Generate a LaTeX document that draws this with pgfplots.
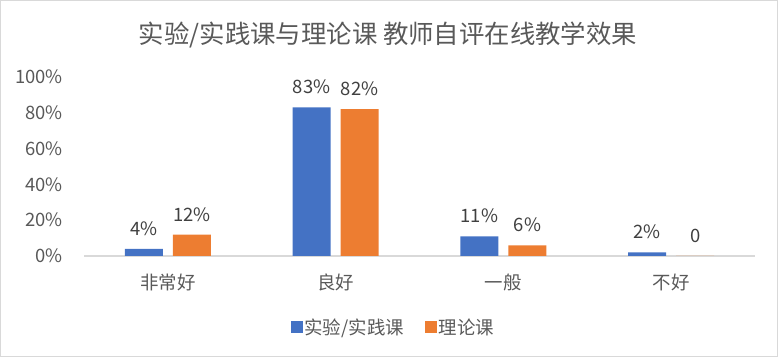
\documentclass[border=0pt]{standalone}
\usepackage{fontspec}
\setmainfont{Noto Sans CJK SC}
\usepackage{pgfplots}
\pgfplotsset{compat=1.18}
\definecolor{cblue}{HTML}{4472C4}
\definecolor{corange}{HTML}{ED7D31}
\definecolor{ctext}{HTML}{595959}
\definecolor{clabel}{HTML}{404040}
\definecolor{cline}{HTML}{D9D9D9}
\begin{document}
\begin{tikzpicture}
\draw[color=cline, line width=1.2bp] (0.6bp,0.6bp) rectangle (777.4bp,356.4bp);
\node[font=\fontsize{25.5}{30}\selectfont, color=ctext] at (388bp,322bp) {实验/实践课与理论课 教师自评在线教学效果};
\begin{axis}[
  at={(84bp,101bp)}, anchor=south west,
  scale only axis, width=671bp, height=179bp,
  xmin=-0.5, xmax=3.5, ymin=0, ymax=100,
  axis line style={draw=none},
  major tick length=0pt,
  ybar=10bp, bar width=38bp,
  xtick={0,1,2,3},
  xticklabels={非常好,良好,一般,不好},
  ytick={0,20,40,60,80,100},
  yticklabel={\pgfmathprintnumber{\tick}\%},
  /pgf/number format/assume math mode=true,
  ticklabel style={font=\fontsize{18.5}{22}\selectfont, color=ctext},
  yticklabel style={anchor=east, inner sep=0pt, xshift=-21bp},
  xticklabel style={anchor=north, inner sep=0pt, yshift=-18bp},
  extra y ticks={0}, extra y tick labels={},
  extra y tick style={grid=major, major grid style={color=cline, line width=1.2bp}},
  nodes near coords,
  point meta=explicit symbolic,
  every node near coord/.append style={font=\fontsize{18.5}{22}\selectfont, color=clabel, anchor=south, inner sep=0pt, yshift=13bp},
  legend style={at={(0.461,-0.397)}, anchor=center, draw=none, fill=none, legend columns=2,
    font=\fontsize{18.5}{22}\selectfont, text=ctext,
    /tikz/every even column/.append style={column sep=19bp},
    inner sep=0pt},
  legend image code/.code={\fill[#1] (0bp,-6bp) rectangle (12bp,6bp);},
]
\addplot[fill=cblue, draw=none] coordinates {(0,4) [4\%] (1,83) [83\%] (2,11) [11\%] (3,2) [2\%]};
\addplot[fill=corange, draw=none] coordinates {(0,12) [12\%] (1,82) [82\%] (2,6) [6\%] (3,0) [0]};
\legend{实验/实践课, 理论课}
\end{axis}
\end{tikzpicture}
\end{document}
